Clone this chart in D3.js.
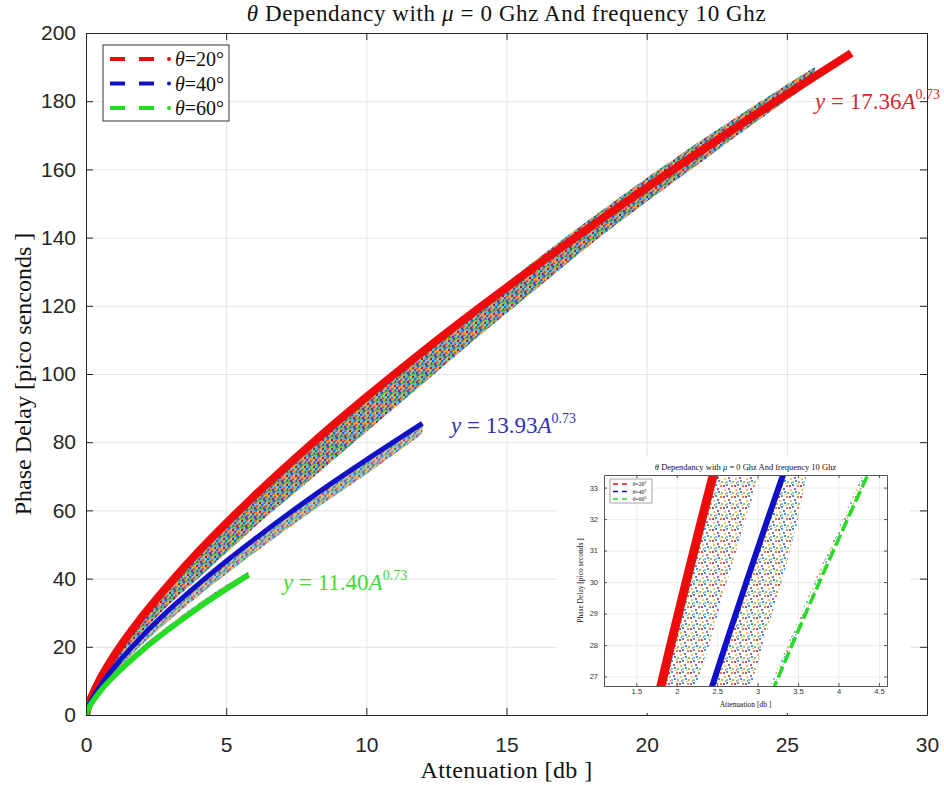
<!DOCTYPE html>
<html>
<head>
<meta charset="utf-8">
<script src="https://cdn.jsdelivr.net/npm/d3@7"></script>
<style>
body { margin: 0; background: #fff; }
svg { display: block; }
</style>
</head>
<body>
<svg id="chart" width="944" height="785"></svg>
<script>
// ---- values ----
var xTicks = [0, 5, 10, 15, 20, 25, 30];
var yTicks = [0, 20, 40, 60, 80, 100, 120, 140, 160, 180, 200];
var legendLabels = ["20", "40", "60"];
var fitCoef = ["17.36", "13.93", "11.40"];

// fitted curves (attenuation db, delay ps)
var atten20 = [0, 0.1, 0.25, 0.5, 1, 2, 3, 4, 5, 6, 8, 10, 12, 14, 16, 18, 20, 22, 24, 26, 27.3];
var delay20 = [0, 3.2, 6.3, 10.5, 17.4, 28.8, 38.7, 47.8, 56.2, 64.2, 79.2, 93.2, 106.5, 119.2, 131.4, 143.2, 154.6, 165.8, 176.7, 187.3, 194.1];
var atten40 = [0, 0.1, 0.25, 0.5, 1, 2, 3, 4, 5, 6, 8, 10, 12];
var delay40 = [0, 2.6, 5.1, 8.4, 13.9, 23.1, 31.1, 38.3, 45.1, 51.5, 63.6, 74.8, 85.5];
var atten60 = [0, 0.1, 0.25, 0.5, 1, 2, 3, 4, 5, 5.8];
var delay60 = [0, 2.1, 4.1, 6.9, 11.4, 18.9, 25.4, 31.4, 36.9, 41.1];

// scatter clouds: edges of each band of points
var cloudAtten = [0, 1, 2, 3, 4, 5, 6, 8, 10, 12, 14, 16, 18, 20, 22, 24, 25.6];
var cloudHigh  = [0, 17.4, 28.8, 38.7, 47.8, 56.2, 64.2, 79.2, 93.2, 106.5, 119.2, 131.4, 143.2, 154.6, 165.8, 176.7, 185.2];
var cloudLow   = [0, 14.8, 24.2, 32.6, 40.0, 47.5, 55.0, 69.0, 83.0, 97.0, 111.0, 124.5, 138.0, 150.5, 162.5, 174.5, 183.8];
var topAtten = [15, 18, 21, 24, 26];
var topLow   = [125.3, 143.2, 160.2, 176.7, 187.3];
var topHigh  = [126.8, 145.6, 163.2, 179.6, 190.0];
var blueCloudAtten = [0, 1, 2, 3, 4, 6, 8, 10, 12];
var blueCloudHigh  = [0, 13.9, 23.1, 31.1, 38.3, 51.5, 63.6, 74.8, 85.5];
var blueCloudLow   = [0, 12.4, 20.6, 27.9, 34.8, 47.5, 59.4, 70.6, 82.5];
var greenCloudAtten = [0, 1, 2, 3, 4, 5, 5.8];
var greenCloudHigh  = [0, 12.6, 20.1, 26.6, 32.6, 38.1, 42.0];
var greenCloudLow   = [0, 11.4, 18.9, 25.4, 31.4, 36.9, 41.1];

// zoomed inset (delay ps -> attenuation db)
var insetXTicks = [1.5, 2, 2.5, 3, 3.5, 4, 4.5];
var insetYTicks = [27, 28, 29, 30, 31, 32, 33];
var insetDelay = [26.5, 28, 30, 32, 33.6];
var inset20    = [1.786, 1.925, 2.116, 2.311, 2.471];
var inset20Edge = [2.22, 2.40, 2.62, 2.85, 3.05];
var inset40    = [2.413, 2.602, 2.860, 3.125, 3.341];
var inset40Edge = [2.90, 3.06, 3.30, 3.50, 3.62];
var inset60    = [3.176, 3.425, 3.764, 4.112, 4.397];
var inset60Edge = [3.12, 3.37, 3.70, 4.05, 4.33];

// ---- drawing ----
var serif = "'Liberation Serif', 'DejaVu Serif', serif";
var sans = "'Liberation Sans', Arial, sans-serif";
var lineColors = ["#ec0c0c", "#1010c8", "#22dd22"];
var dotColors = ["#0072BD", "#D95319", "#EDB120", "#7E2F8E", "#77AC30", "#4DBEEE", "#A2142F"];

var svg = d3.select("#chart");
var pLeft = 86, pRight = 927, pTop = 33, pBottom = 715;

var x = d3.scaleLinear().domain([0, 30]).range([pLeft, pRight]);
var y = d3.scaleLinear().domain([0, 200]).range([pBottom, pTop]);

var defs = svg.append("defs");

// texture standing in for the thousands of coloured scatter markers
function dotPattern(id, size, r, bg, spots) {
    var p = defs.append("pattern").attr("id", id)
        .attr("patternUnits", "userSpaceOnUse")
        .attr("width", size).attr("height", size);
    if (bg) p.append("rect").attr("width", size).attr("height", size).attr("fill", bg);
    spots.forEach(function (s) {
        p.append("circle").attr("cx", s[0]).attr("cy", s[1]).attr("r", r)
            .attr("fill", dotColors[s[2]]);
    });
}
dotPattern("dense", 9, 1.6, "#c9cdb8", [[1,1,0],[5,2,1],[8,0.5,2],[3,4,3],[7,5,4],[1,7,5],[5,8,2],[8.5,8,6],
    [3,9,1],[9,3.5,0],[0,4.5,4],[6,0,5],[4,6,0]]);
dotPattern("sparse", 11, 1.0, null, [[1,1,0],[6,2,1],[10,6,2],[3,5,3],[7,9,4],[1,9,5],[9,2,6],[5,11,2],[11,10,1],[4,8,0]]);

defs.append("clipPath").attr("id", "plotClip").append("rect")
    .attr("x", pLeft).attr("y", pTop).attr("width", pRight - pLeft).attr("height", pBottom - pTop);

// grid
svg.append("g").attr("transform", "translate(0," + pBottom + ")")
    .call(d3.axisBottom(x).tickValues(xTicks).tickSize(-(pBottom - pTop)).tickFormat(""))
    .call(function (g) { g.select(".domain").remove(); })
    .selectAll("line").attr("stroke", "#e4e4e4");
svg.append("g").attr("transform", "translate(" + pLeft + ",0)")
    .call(d3.axisLeft(y).tickValues(yTicks).tickSize(-(pRight - pLeft)).tickFormat(""))
    .call(function (g) { g.select(".domain").remove(); })
    .selectAll("line").attr("stroke", "#e4e4e4");

var plot = svg.append("g").attr("clip-path", "url(#plotClip)");

function band(atten, lo, hi) {
    return d3.area()
        .x(function (d, i) { return x(atten[i]); })
        .y0(function (d, i) { return y(lo[i]); })
        .y1(function (d, i) { return y(hi[i]); })
        .curve(d3.curveMonotoneX)(atten);
}
plot.append("path").attr("d", band(cloudAtten, cloudLow, cloudHigh)).attr("fill", "url(#dense)");
plot.append("path").attr("d", band(topAtten, topLow, topHigh)).attr("fill", "url(#dense)");
plot.append("path").attr("d", band(blueCloudAtten, blueCloudLow, blueCloudHigh)).attr("fill", "url(#dense)").attr("opacity", 0.8);
plot.append("path").attr("d", band(greenCloudAtten, greenCloudLow, greenCloudHigh)).attr("fill", "url(#dense)").attr("opacity", 0.8);

var fitLine = d3.line()
    .x(function (d) { return x(d[0]); })
    .y(function (d) { return y(d[1]); })
    .curve(d3.curveMonotoneX);

var fits = [
    { pts: d3.zip(atten20, delay20), w: 8 },
    { pts: d3.zip(atten40, delay40), w: 5 },
    { pts: d3.zip(atten60, delay60), w: 5.5 }
];
fits.forEach(function (f, i) {
    plot.append("path").attr("d", fitLine(f.pts))
        .attr("fill", "none").attr("stroke", lineColors[i])
        .attr("stroke-width", f.w);
});

// axes box with inward ticks
function tickAxis(axis, tx, ty) {
    var g = svg.append("g").attr("transform", "translate(" + tx + "," + ty + ")").call(axis);
    g.select(".domain").attr("stroke", "#262626");
    g.selectAll(".tick line").attr("stroke", "#262626");
    g.selectAll("text").attr("fill", "#262626").style("font-family", sans).style("font-size", "21px");
    return g;
}
tickAxis(d3.axisBottom(x).tickValues(xTicks).tickSizeInner(-7).tickSizeOuter(0).tickPadding(22), 0, pBottom);
tickAxis(d3.axisLeft(y).tickValues(yTicks).tickSizeInner(-7).tickSizeOuter(0).tickPadding(10), pLeft, 0);
tickAxis(d3.axisTop(x).tickValues(xTicks).tickSizeInner(-7).tickSizeOuter(0).tickFormat(""), 0, pTop);
tickAxis(d3.axisRight(y).tickValues(yTicks).tickSizeInner(-7).tickSizeOuter(0).tickFormat(""), pRight, 0);

// titles
function mathText(parent, px, py, size, parts, anchor) {
    var t = parent.append("text").attr("x", px).attr("y", py)
        .attr("text-anchor", anchor || "middle")
        .style("font-family", serif).style("font-size", size + "px").attr("fill", "#111");
    parts.forEach(function (p) {
        var s = t.append("tspan").text(p[0]);
        if (p[1]) s.style("font-style", "italic");
    });
    return t;
}
var titleParts = [["θ", 1], [" Dependancy with ", 0], ["μ", 1], [" = 0 Ghz And frequency 10 Ghz", 0]];
mathText(svg, (pLeft + pRight) / 2, 21, 23, titleParts).style("letter-spacing", "0.6px");
mathText(svg, (pLeft + pRight) / 2, 778, 24, [["Attenuation [db ]", 0]]).style("letter-spacing", "0.4px");
mathText(svg, 0, 0, 24, [["Phase Delay [pico senconds ]", 0]])
    .attr("transform", "translate(31," + (pTop + pBottom) / 2 + ") rotate(-90)");

// fit equations
function powerLabel(px, py, coef, color) {
    var t = svg.append("text").attr("x", px).attr("y", py).attr("fill", color)
        .style("font-family", serif).style("font-size", "23px");
    t.append("tspan").style("font-style", "italic").text("y");
    t.append("tspan").text(" = " + coef);
    t.append("tspan").style("font-style", "italic").text("A");
    t.append("tspan").attr("dy", -10).style("font-size", "14px").text("0.73");
}
powerLabel(815, 109, fitCoef[0], "#d42a2a");
powerLabel(451, 433, fitCoef[1], "#3030b4");
powerLabel(283, 590, fitCoef[2], "#3cdc3c");

// legend
var leg = svg.append("g");
leg.append("rect").attr("x", 103).attr("y", 45).attr("width", 126).attr("height", 76)
    .attr("fill", "#fff").attr("stroke", "#333").attr("stroke-width", 1);
legendLabels.forEach(function (lab, i) {
    var ly = 59 + i * 24.5;
    leg.append("line").attr("x1", 110).attr("x2", 154).attr("y1", ly).attr("y2", ly)
        .attr("stroke", lineColors[i]).attr("stroke-width", 4).attr("stroke-dasharray", "15,14");
    leg.append("circle").attr("cx", 169).attr("cy", ly).attr("r", 2).attr("fill", lineColors[i]);
    mathText(leg, 175, ly + 7, 20, [["θ", 1], ["=" + lab + "°", 0]], "start");
});

// ---- inset ----
var ins = svg.append("g");
ins.append("rect").attr("x", 557).attr("y", 457).attr("width", 353).attr("height", 256).attr("fill", "#fff");
var iL = 604, iR = 887, iT = 475, iB = 686;
var xi = d3.scaleLinear().domain([1.1, 4.6]).range([iL, iR]);
var yi = d3.scaleLinear().domain([26.7, 33.4]).range([iB, iT]);

defs.append("clipPath").attr("id", "insetClip").append("rect")
    .attr("x", iL).attr("y", iT).attr("width", iR - iL).attr("height", iB - iT);

ins.append("g").attr("transform", "translate(0," + iB + ")")
    .call(d3.axisBottom(xi).tickValues(insetXTicks).tickSize(-(iB - iT)).tickFormat(""))
    .call(function (g) { g.select(".domain").remove(); })
    .selectAll("line").attr("stroke", "#ececec");
ins.append("g").attr("transform", "translate(" + iL + ",0)")
    .call(d3.axisLeft(yi).tickValues(insetYTicks).tickSize(-(iR - iL)).tickFormat(""))
    .call(function (g) { g.select(".domain").remove(); })
    .selectAll("line").attr("stroke", "#ececec");

var iplot = ins.append("g").attr("clip-path", "url(#insetClip)");
function hband(a, b) {
    return d3.area()
        .y(function (d, i) { return yi(insetDelay[i]); })
        .x0(function (d, i) { return xi(a[i]); })
        .x1(function (d, i) { return xi(b[i]); })(insetDelay);
}
iplot.append("path").attr("d", hband(inset20, inset20Edge)).attr("fill", "url(#sparse)");
iplot.append("path").attr("d", hband(inset40, inset40Edge)).attr("fill", "url(#sparse)");
iplot.append("path").attr("d", hband(inset60Edge, inset60)).attr("fill", "url(#sparse)").attr("opacity", 0.7);

var iline = d3.line()
    .x(function (d) { return xi(d[0]); })
    .y(function (d) { return yi(d[1]); });
[[inset20, 9, null], [inset40, 6, null], [inset60, 3.5, "12,4"]].forEach(function (s, i) {
    iplot.append("path").attr("d", iline(d3.zip(s[0], insetDelay)))
        .attr("fill", "none").attr("stroke", lineColors[i])
        .attr("stroke-width", s[1]).attr("stroke-dasharray", s[2]);
});

function insetAxis(axis, tx, ty) {
    var g = ins.append("g").attr("transform", "translate(" + tx + "," + ty + ")").call(axis);
    g.select(".domain").attr("stroke", "#555");
    g.selectAll(".tick line").attr("stroke", "#555");
    g.selectAll("text").attr("fill", "#333").style("font-family", sans).style("font-size", "7.5px");
}
insetAxis(d3.axisBottom(xi).tickValues(insetXTicks).tickFormat(String).tickSizeInner(-3).tickSizeOuter(0).tickPadding(3), 0, iB);
insetAxis(d3.axisLeft(yi).tickValues(insetYTicks).tickFormat(String).tickSizeInner(-3).tickSizeOuter(0).tickPadding(6), iL, 0);
insetAxis(d3.axisTop(xi).tickValues(insetXTicks).tickSizeInner(-3).tickSizeOuter(0).tickFormat(""), 0, iT);
insetAxis(d3.axisRight(yi).tickValues(insetYTicks).tickSizeInner(-3).tickSizeOuter(0).tickFormat(""), iR, 0);

mathText(ins, (iL + iR) / 2, 470, 8.5, titleParts);
mathText(ins, (iL + iR) / 2, 707, 7.5, [["Attenuation [db ]", 0]]);
mathText(ins, 0, 0, 7.5, [["Phase Delay [pico seconds ]", 0]])
    .attr("transform", "translate(583," + (iT + iB) / 2 + ") rotate(-90)");

var ileg = ins.append("g");
ileg.append("rect").attr("x", 610).attr("y", 479).attr("width", 42).attr("height", 24)
    .attr("fill", "#fff").attr("stroke", "#666").attr("stroke-width", 0.6);
legendLabels.forEach(function (lab, i) {
    var ly = 484 + i * 7.5;
    ileg.append("line").attr("x1", 613).attr("x2", 628).attr("y1", ly).attr("y2", ly)
        .attr("stroke", lineColors[i]).attr("stroke-width", 1.5).attr("stroke-dasharray", "5,4");
    mathText(ileg, 631, ly + 2, 5.5, [["·", 0], ["θ", 1], ["=" + lab + "°", 0]], "start");
});
</script>
</body>
</html>
